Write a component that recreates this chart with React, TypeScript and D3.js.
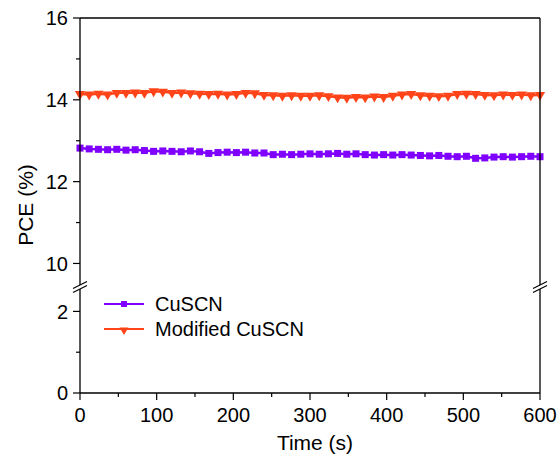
import React from "react";
import * as d3 from "d3";

const times: number[] = d3.range(0, 601, 12);
const cuscn: number[] = [
  12.82, 12.8, 12.79, 12.78, 12.79, 12.77, 12.78, 12.76, 12.74, 12.75, 12.74, 12.73, 12.75, 12.73,
  12.69, 12.71, 12.72, 12.71, 12.72, 12.7, 12.7, 12.66, 12.67, 12.66, 12.67, 12.68, 12.67, 12.68,
  12.69, 12.67, 12.68, 12.66, 12.65, 12.66, 12.65, 12.66, 12.65, 12.64, 12.63, 12.64, 12.62, 12.61,
  12.62, 12.57, 12.58, 12.6, 12.61, 12.6, 12.61, 12.62, 12.61,
];
const modified: number[] = [
  14.14, 14.13, 14.15, 14.13, 14.17, 14.17, 14.18, 14.17, 14.21, 14.2, 14.17, 14.18, 14.16, 14.15,
  14.14, 14.15, 14.13, 14.14, 14.17, 14.16, 14.12, 14.11, 14.1, 14.11, 14.1, 14.1, 14.11, 14.09,
  14.06, 14.05, 14.07, 14.06, 14.08, 14.07, 14.1, 14.13, 14.14, 14.11, 14.1, 14.09, 14.1, 14.14,
  14.15, 14.14, 14.12, 14.11, 14.13, 14.12, 14.13, 14.11, 14.12,
];
const xTicks: number[] = [0, 100, 200, 300, 400, 500, 600];
const xMinor: number[] = [50, 150, 250, 350, 450, 550];
const upperTicks: number[] = [10, 12, 14, 16];
const upperMinor: number[] = [11, 13, 15];
const lowerTicks: number[] = [0, 2];
const lowerMinor: number[] = [1];
const seriesNames: string[] = ["CuSCN", "Modified CuSCN"];

const PURPLE = "#7f00ff";
const RED = "#ff4419";
const FONT = "Liberation Sans, Arial, sans-serif";

export default function App() {
  const L = 80, R = 540, T = 18, B = 393;
  const x = d3.scaleLinear().domain([0, 600]).range([L, R]);
  const yU = d3.scaleLinear().domain([9.4, 16]).range([288, T]);
  const yL = d3.scaleLinear().domain([0, 2.5]).range([B, 291]);

  const line = d3.line<number>().x((_, i) => x(times[i])).y((d) => yU(d));
  const tri = d3.symbol().type(d3.symbolTriangle).size(46)();

  const breakMark = (cx: number) => (
    <g key={cx}>
      <polygon points={`${cx - 7},${292.5} ${cx + 7},${285.5} ${cx + 7},${281.5} ${cx - 7},${288.5}`} fill="white" />
      <line x1={cx - 7} y1={292.5} x2={cx + 7} y2={285.5} stroke="black" strokeWidth={1.2} />
      <line x1={cx - 7} y1={288.5} x2={cx + 7} y2={281.5} stroke="black" strokeWidth={1.2} />
    </g>
  );

  return (
    <svg width={560} height={461} style={{ position: "absolute", left: 0, top: 0, background: "white" }} fontFamily={FONT}>
      {/* data */}
      <path d={line(cuscn) || ""} fill="none" stroke={PURPLE} strokeWidth={2.5} />
      {cuscn.map((v, i) => (
        <rect key={"s" + i} x={x(times[i]) - 3.5} y={yU(v) - 3.5} width={7} height={7} fill={PURPLE} />
      ))}
      <path d={line(modified) || ""} fill="none" stroke={RED} strokeWidth={2.5} />
      {modified.map((v, i) => (
        <path key={"t" + i} d={tri || ""} transform={`translate(${x(times[i])},${yU(v)}) rotate(180)`} fill={RED} />
      ))}

      {/* frame */}
      <line x1={L} y1={T} x2={R} y2={T} stroke="black" strokeWidth={1.3} />
      <line x1={R} y1={T} x2={R} y2={B} stroke="black" strokeWidth={1.3} />
      <line x1={L} y1={T} x2={L} y2={B} stroke="black" strokeWidth={1.3} />
      <line x1={L} y1={B} x2={R} y2={B} stroke="black" strokeWidth={1.3} />
      {breakMark(L)}
      {breakMark(R)}

      {/* x ticks */}
      {xTicks.map((t) => (
        <g key={"xt" + t}>
          <line x1={x(t)} x2={x(t)} y1={B} y2={B + 7} stroke="black" strokeWidth={1.2} />
          <text x={x(t)} y={422} textAnchor="middle" fontSize={20}>{t}</text>
        </g>
      ))}
      {xMinor.map((t) => (
        <line key={"xm" + t} x1={x(t)} x2={x(t)} y1={B} y2={B + 4} stroke="black" strokeWidth={1.2} />
      ))}

      {/* y ticks */}
      {upperTicks.map((t) => (
        <g key={"yu" + t}>
          <line x1={L - 7} x2={L} y1={yU(t)} y2={yU(t)} stroke="black" strokeWidth={1.2} />
          <text x={L - 12} y={yU(t)} dy="0.36em" textAnchor="end" fontSize={20}>{t}</text>
        </g>
      ))}
      {upperMinor.map((t) => (
        <line key={"yum" + t} x1={L - 4} x2={L} y1={yU(t)} y2={yU(t)} stroke="black" strokeWidth={1.2} />
      ))}
      {lowerTicks.map((t) => (
        <g key={"yl" + t}>
          <line x1={L - 7} x2={L} y1={yL(t)} y2={yL(t)} stroke="black" strokeWidth={1.2} />
          <text x={L - 12} y={yL(t)} dy="0.36em" textAnchor="end" fontSize={20}>{t}</text>
        </g>
      ))}
      {lowerMinor.map((t) => (
        <line key={"ylm" + t} x1={L - 4} x2={L} y1={yL(t)} y2={yL(t)} stroke="black" strokeWidth={1.2} />
      ))}

      {/* titles */}
      <text x={(L + R) / 2 + 5} y={450} textAnchor="middle" fontSize={21}>Time (s)</text>
      <text transform="translate(33,205) rotate(-90)" textAnchor="middle" fontSize={21}>PCE (%)</text>

      {/* legend */}
      <g>
        <line x1={104} x2={144} y1={304} y2={304} stroke={PURPLE} strokeWidth={2} />
        <rect x={121} y={301} width={6} height={6} fill={PURPLE} />
        <text x={155} y={304} dy="0.36em" fontSize={20}>{seriesNames[0]}</text>
        <line x1={104} x2={144} y1={329} y2={329} stroke={RED} strokeWidth={2} />
        <path d={d3.symbol().type(d3.symbolTriangle).size(34)() || ""} transform={`translate(124,330) rotate(180)`} fill={RED} />
        <text x={155} y={329} dy="0.36em" fontSize={20}>{seriesNames[1]}</text>
      </g>
    </svg>
  );
}
